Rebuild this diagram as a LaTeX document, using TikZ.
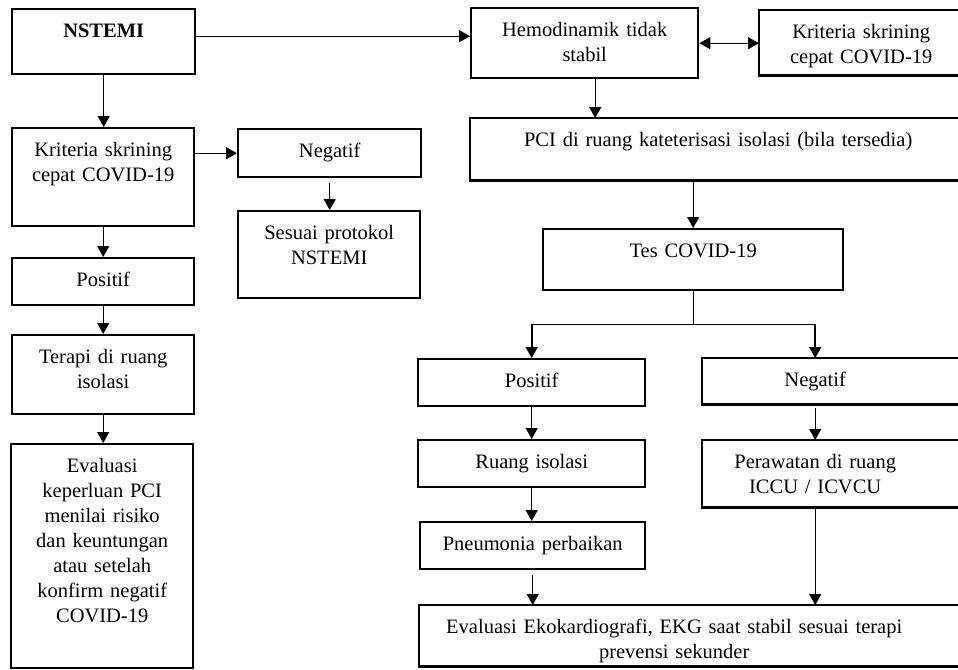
\documentclass[tikz,border=0pt]{standalone}
\usepackage{fontspec}
\setmainfont{Liberation Serif}
\usetikzlibrary{arrows.meta}

\begin{document}
\begin{tikzpicture}[x=1pt, y=-1pt,
      every node/.style = {inner sep=0pt, align=center, anchor=north west,
        font=\fontsize{20.5}{25}\selectfont, text height=28pt},
      kotak/.style 2 args = {draw, line width=2.4pt, text width=#1pt, text depth=#2pt-28pt},
      terbuka/.style 2 args = {text width=#1pt, text depth=#2pt-28pt},
      panah/.style = {-{Triangle[length=11pt,width=12pt]}, line width=1.3pt},
      panah2/.style = {{Triangle[length=11pt,width=12pt]}-{Triangle[length=11pt,width=12pt]}, line width=1.3pt}]
  \useasboundingbox[fill=white] (0,0) rectangle (958,669);
  \clip (0,0) rectangle (958,669);

  % kolom kiri
  \node[kotak={183}{65}] (nstemi) at (11,8) {\bfseries NSTEMI};
  \node[kotak={182}{98}] (krit1) at (11,127) {Kriteria skrining\\ cepat COVID-19};
  \node[kotak={183}{48}] (neg1) at (237,128) {Negatif};
  \node[kotak={182}{87}] (sesuai) at (237,210) {Sesuai protokol\\ NSTEMI};
  \node[kotak={182}{47}] (pos1) at (11,257) {Positif};
  \node[kotak={182}{79}] (terapi) at (11,334) {Terapi di ruang\\ isolasi};
  \node[kotak={182}{224}] (eval1) at (10,443) {Evaluasi\\ keperluan PCI\\ menilai risiko\\ dan keuntungan\\ atau setelah\\ konfirm negatif\\ COVID-19};

  % kolom kanan
  \node[kotak={227}{70}] (hemo) at (470,7) {Hemodinamik tidak\\ stabil};
  \node[terbuka={204}{65}] (krit2) at (759,10) {Kriteria skrining\\ cepat COVID-19};
  \node[terbuka={496}{62}] (pci) at (470,118) {PCI di ruang kateterisasi isolasi (bila tersedia)};
  \node[kotak={300}{61}] (tes) at (542,228) {Tes COVID-19};
  \node[kotak={227}{47}] (pos2) at (417,358) {Positif};
  \node[terbuka={226}{46}] (neg2) at (702,358) {Negatif};
  \node[kotak={227}{47}] (ruang) at (417,439) {Ruang isolasi};
  \node[terbuka={226}{67}] (rawat) at (702,440) {Perawatan di ruang\\ ICCU / ICVCU};
  \node[kotak={225}{47}] (pneu) at (419,521) {Pneumonia perbaikan};
  \node[terbuka={510}{61}] (eval2) at (419,605) {Evaluasi Ekokardiografi, EKG saat stabil sesuai terapi\\ prevensi sekunder};

  % kotak yang terpotong di tepi kanan
  \foreach \n in {krit2, pci, neg2, rawat, eval2}
    \draw[line width=2.4pt] ([xshift=80pt]\n.north east) -- (\n.north west)
      -- (\n.south west) -- ([xshift=80pt]\n.south east);

  % panah
  \draw[panah] ([yshift=5.5pt]nstemi.east) coordinate (a) -- (a -| hemo.west);
  \draw[panah2] (hemo.east) -- (hemo.east -| krit2.west);
  \draw[panah] (nstemi.south) -- (nstemi.south |- krit1.north);
  \draw[panah] (neg1.west -| krit1.east) -- (neg1.west);
  \draw[panah, shorten <=5pt] (neg1.south) -- (neg1.south |- sesuai.north);
  \draw[panah] (krit1.south) -- (krit1.south |- pos1.north);
  \draw[panah] (pos1.south) -- (pos1.south |- terapi.north);
  \draw[panah] (terapi.south) -- (terapi.south |- eval1.north);
  \draw[panah] ([xshift=10.5pt]hemo.south) coordinate (b) -- (b |- pci.north);
  \draw[panah] (tes.north |- pci.south) -- (tes.north);
  \draw[line width=1.3pt] (tes.south) -- ++(0,33) coordinate (cab);
  \draw[panah, line width=1.8pt] (cab) -| (pos2.north);
  \draw[panah, line width=1.8pt] (cab) -| (neg2.north);
  \draw[panah] (pos2.south) -- (ruang.north);
  \draw[panah] (ruang.south) -- (ruang.south |- pneu.north);
  \draw[panah, shorten <=4pt] (neg2.south) -- (rawat.north);
  \draw[panah, shorten <=5pt] (pneu.south) -- (pneu.south |- eval2.north);
  \draw[panah] (rawat.south) -- (rawat.south |- eval2.north);
\end{tikzpicture}
\end{document}
